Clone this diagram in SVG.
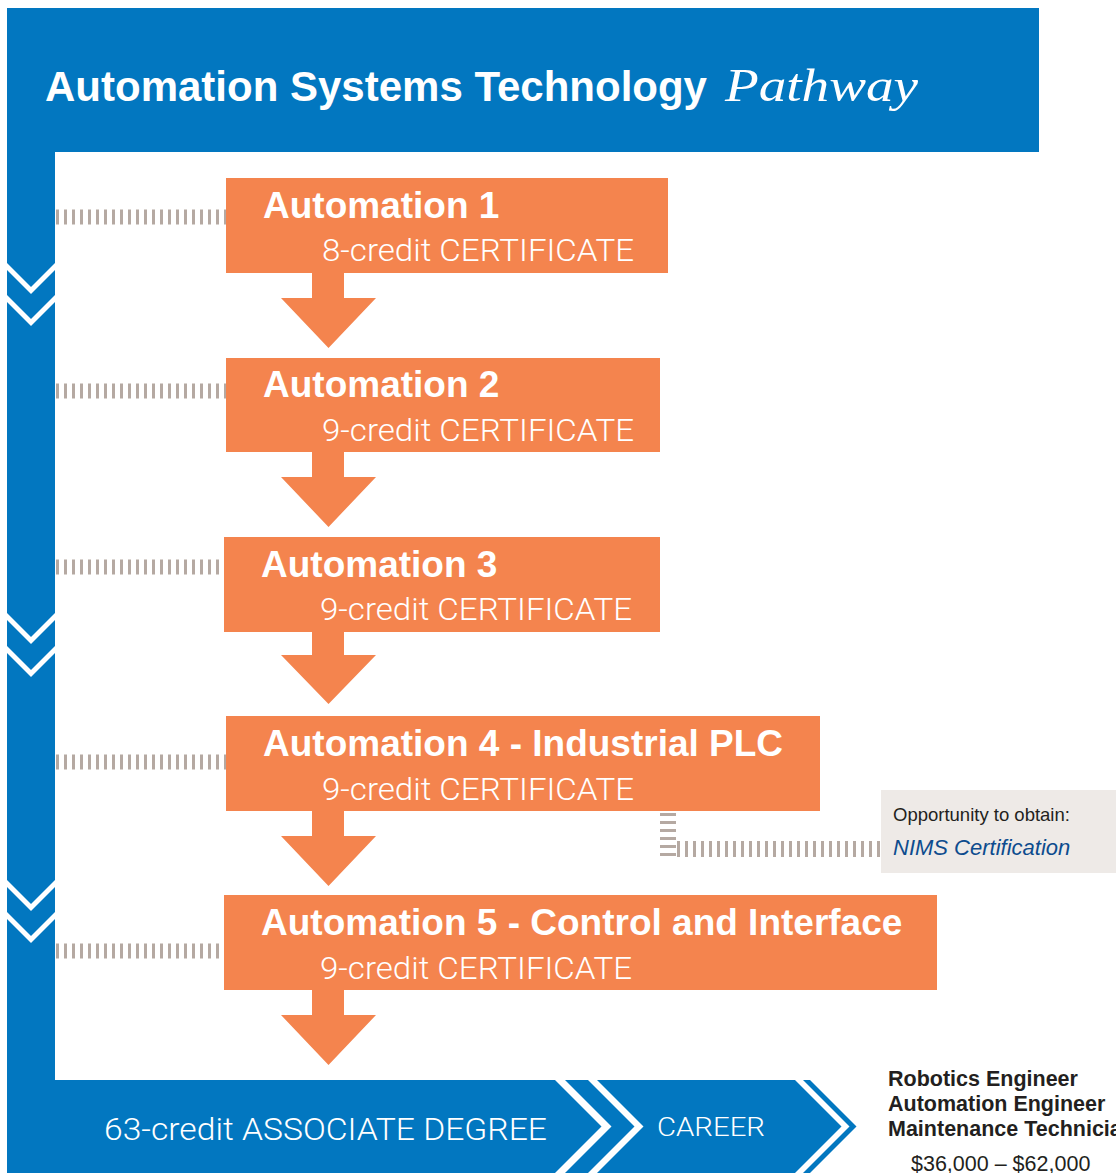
<svg xmlns="http://www.w3.org/2000/svg" width="1116" height="1173" viewBox="0 0 1116 1173">
<style>
.blue{fill:#0277C0}
.box{fill:#F4844E}
.wh{fill:#FFFFFF}
.hatch{stroke:#B5A9A2;stroke-width:15;stroke-dasharray:3 5;fill:none}
.arrow{fill:#F4844E}
.t1{font-family:"Liberation Sans",Arial,sans-serif;font-weight:bold;font-size:37px;fill:#FFFFFF}
.t2{font-family:Roboto,"Liberation Sans",sans-serif;font-weight:300;font-size:31px;fill:#FFFFFF}
.car{font-family:"Liberation Sans",Arial,sans-serif;font-weight:bold;font-size:21.5px;fill:#231F20}
</style>
<rect width="1116" height="1173" fill="#FFFFFF"/>

<g id="header">
<rect class="blue" x="7" y="8" width="1032" height="144"/>
<text x="45" y="101" font-family="'Liberation Sans',Arial,sans-serif" font-weight="bold" font-size="42" fill="#FFFFFF">Automation Systems Technology</text>
<text x="725" y="101" font-family="'Liberation Serif',serif" font-style="italic" font-size="46" fill="#FFFFFF" textLength="193" lengthAdjust="spacingAndGlyphs">Pathway</text>
</g>

<g id="sidebar">
<rect class="blue" x="7" y="150" width="48" height="940"/>
<polygon class="wh" points="7,263 31,287 55,263 55,270 31,294 7,270"/>
<polygon class="wh" points="7,295 31,319 55,295 55,302 31,326 7,302"/>
<polygon class="wh" points="7,613 31,637 55,613 55,620 31,644 7,620"/>
<polygon class="wh" points="7,646 31,670 55,646 55,653 31,677 7,653"/>
<polygon class="wh" points="7,880 31,904 55,880 55,887 31,911 7,887"/>
<polygon class="wh" points="7,912 31,936 55,912 55,919 31,943 7,919"/>
</g>

<g id="connectors">
<line class="hatch" x1="56" y1="217" x2="226" y2="217"/>
<line class="hatch" x1="56" y1="391" x2="226" y2="391"/>
<line class="hatch" x1="56" y1="567" x2="224" y2="567"/>
<line class="hatch" x1="56" y1="762" x2="226" y2="762"/>
<line class="hatch" x1="56" y1="951" x2="224" y2="951"/>
<line x1="668" y1="813" x2="668" y2="858" stroke="#B5A9A2" stroke-width="16" stroke-dasharray="3 5"/>
<line x1="677" y1="849" x2="881" y2="849" stroke="#B5A9A2" stroke-width="16" stroke-dasharray="3 5"/>
<polygon class="arrow" points="312,272 344,272 344,298 376,298 328.5,348 281,298 312,298"/>
<polygon class="arrow" points="312,451 344,451 344,477 376,477 328.5,527 281,477 312,477"/>
<polygon class="arrow" points="312,631 344,631 344,655 376,655 328.5,704 281,655 312,655"/>
<polygon class="arrow" points="312,810 344,810 344,836 376,836 328.5,886 281,836 312,836"/>
<polygon class="arrow" points="312,989 344,989 344,1015 376,1015 328.5,1065 281,1015 312,1015"/>
</g>

<g id="node-automation-1">
<rect class="box" x="226" y="178" width="442" height="95"/>
<text class="t1" x="263" y="218">Automation 1</text>
<text class="t2" x="322" y="261" textLength="312" lengthAdjust="spacingAndGlyphs">8-credit CERTIFICATE</text>
</g>
<g id="node-automation-2">
<rect class="box" x="226" y="358" width="434" height="94"/>
<text class="t1" x="263" y="397">Automation 2</text>
<text class="t2" x="322" y="441" textLength="312" lengthAdjust="spacingAndGlyphs">9-credit CERTIFICATE</text>
</g>
<g id="node-automation-3">
<rect class="box" x="224" y="537" width="436" height="95"/>
<text class="t1" x="261" y="577">Automation 3</text>
<text class="t2" x="320" y="620" textLength="312" lengthAdjust="spacingAndGlyphs">9-credit CERTIFICATE</text>
</g>
<g id="node-automation-4">
<rect class="box" x="226" y="716" width="594" height="95"/>
<text class="t1" x="263" y="756">Automation 4 - Industrial PLC</text>
<text class="t2" x="322" y="800" textLength="312" lengthAdjust="spacingAndGlyphs">9-credit CERTIFICATE</text>
</g>
<g id="node-automation-5">
<rect class="box" x="224" y="895" width="713" height="95"/>
<text class="t1" x="261" y="935">Automation 5 - Control and Interface</text>
<text class="t2" x="320" y="979" textLength="312" lengthAdjust="spacingAndGlyphs">9-credit CERTIFICATE</text>
</g>

<g id="node-nims">
<rect x="881" y="790" width="235" height="83" fill="#EEEAE7"/>
<text x="893" y="821" font-family="'Liberation Sans',Arial,sans-serif" font-size="18.5" fill="#231F20">Opportunity to obtain:</text>
<text x="893" y="855" font-family="'Liberation Sans',Arial,sans-serif" font-style="italic" font-size="22" fill="#0D4C8E">NIMS Certification</text>
</g>

<g id="node-degree-career">
<polygon class="blue" points="7,1080 810,1080 856.5,1126.5 810,1173 7,1173"/>
<polygon class="wh" points="555,1080 565,1080 611.5,1126.5 565,1173 555,1173 601.5,1126.5"/>
<polygon class="wh" points="588,1080 597,1080 643.5,1126.5 597,1173 588,1173 634.5,1126.5"/>
<polygon class="wh" points="795,1080 803,1080 849.5,1126.5 803,1173 795,1173 841.5,1126.5"/>
<text class="t2" x="104" y="1140" textLength="443" lengthAdjust="spacingAndGlyphs">63-credit ASSOCIATE DEGREE</text>
<text class="t2" x="657" y="1136" textLength="108" lengthAdjust="spacingAndGlyphs" style="font-size:26px">CAREER</text>
</g>

<g id="node-careers">
<text class="car" x="888" y="1086">Robotics Engineer</text>
<text class="car" x="888" y="1111">Automation Engineer</text>
<text class="car" x="888" y="1136">Maintenance Technician</text>
<text x="911" y="1171" font-family="'Liberation Sans',Arial,sans-serif" font-size="21.5" fill="#231F20">$36,000 – $62,000</text>
</g>
</svg>
